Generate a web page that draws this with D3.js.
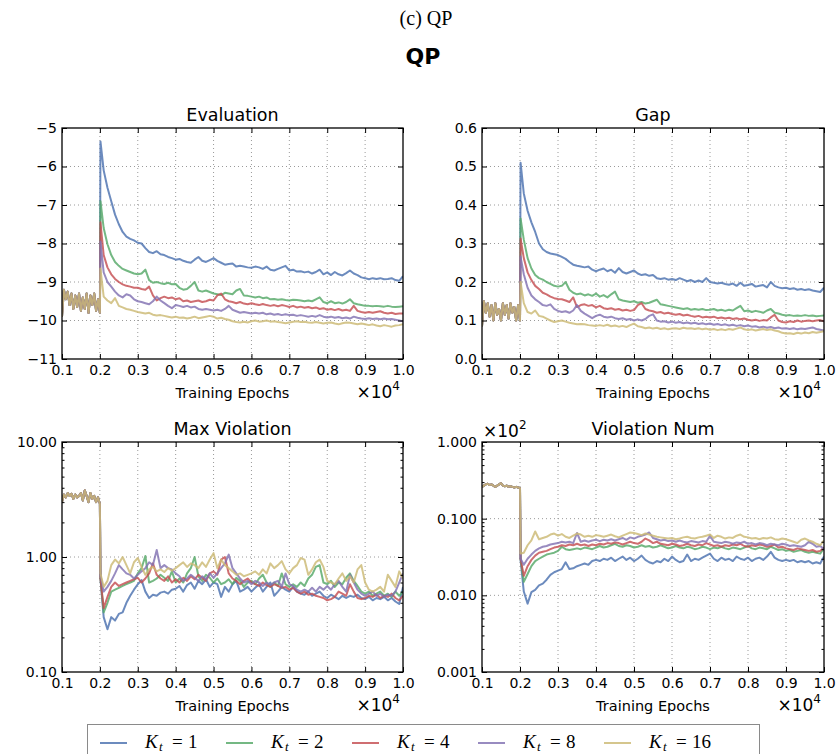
<!DOCTYPE html>
<html>
<head>
<meta charset="utf-8">
<script src="https://cdn.jsdelivr.net/npm/d3@7"></script>
<style>
  body { margin: 0; background: #fff; }
  svg { display: block; }
</style>
</head>
<body>
<svg id="fig" width="837" height="754"></svg>
<script>
// ---- series meta ----
const runLabels = ["1", "2", "4", "8", "16"];
const runColors = ["#4C72B0", "#55A868", "#C44E52", "#8172B2", "#CCB974"];

// ---- epochs ----
const warmupEpochs = d3.range(1000, 2001, 50);          // shared warm-up phase
const spikeEpoch = 2015;
const trainEpochs = [spikeEpoch, ...d3.range(2100, 10001, 100)];
const epochTicks = d3.range(1000, 10001, 1000);

// ---- Evaluation ----
const evalTicks = [-11, -10, -9, -8, -7, -6, -5];
const evalWarmup = [-9.9, -9.2, -9.45, -9.25, -9.6, -9.3, -9.7, -9.35, -9.65, -9.3, -9.75, -9.4, -9.7, -9.3, -9.8, -9.35, -9.6, -9.3, -9.75, -9.45, -9.8];
const evalK1 = [-5.35, -6.1, -6.55, -6.9, -7.25, -7.5, -7.7, -7.82, -7.88, -7.92, -7.98,
  -8.0, -8.12, -8.22, -8.25, -8.2, -8.28, -8.3, -8.35, -8.38, -8.42,
  -8.4, -8.45, -8.48, -8.5, -8.42, -8.35, -8.45, -8.48, -8.43, -8.38,
  -8.45, -8.5, -8.55, -8.53, -8.52, -8.6, -8.58, -8.6, -8.62, -8.63,
  -8.6, -8.62, -8.66, -8.6, -8.68, -8.7, -8.66, -8.62, -8.58, -8.7,
  -8.68, -8.73, -8.72, -8.75, -8.73, -8.78, -8.74, -8.68, -8.8, -8.75,
  -8.82, -8.74, -8.8, -8.83, -8.77, -8.7, -8.78, -8.82, -8.88, -8.9,
  -8.93, -8.9, -8.92, -8.9, -8.93, -8.92, -8.9, -8.95, -8.97, -8.85];
const evalK2 = [-6.9, -7.6, -8.02, -8.3, -8.48, -8.58, -8.66, -8.7, -8.74, -8.78, -8.8,
  -8.78, -8.68, -8.95, -9.02, -9.0, -9.03, -9.05, -9.02, -9.06, -9.05,
  -9.15, -9.2, -9.18, -9.1, -9.0, -9.22, -9.25, -9.22, -9.26, -9.3,
  -9.32, -9.34, -9.28, -9.3, -9.32, -9.22, -9.18, -9.35, -9.36, -9.38,
  -9.4, -9.38, -9.42, -9.4, -9.45, -9.44, -9.46, -9.45, -9.47, -9.48,
  -9.46, -9.47, -9.48, -9.5, -9.48, -9.5, -9.45, -9.4, -9.52, -9.55,
  -9.5, -9.55, -9.53, -9.56, -9.52, -9.45, -9.55, -9.58, -9.6, -9.62,
  -9.62, -9.63, -9.62, -9.63, -9.64, -9.62, -9.64, -9.65, -9.64, -9.63];
const evalK4 = [-7.45, -8.3, -8.62, -8.8, -8.92, -9.0, -9.06, -9.1, -9.12, -9.15, -9.15,
  -9.18, -9.2, -9.12, -9.35, -9.48, -9.42, -9.38, -9.42, -9.4, -9.45,
  -9.42, -9.5, -9.48, -9.52, -9.5, -9.48, -9.52, -9.5, -9.46, -9.48,
  -9.35, -9.3, -9.45, -9.5, -9.52, -9.55, -9.52, -9.56, -9.58, -9.55,
  -9.58, -9.6, -9.57, -9.6, -9.62, -9.6, -9.63, -9.6, -9.62, -9.65,
  -9.62, -9.66, -9.64, -9.67, -9.65, -9.68, -9.66, -9.7, -9.68, -9.72,
  -9.7, -9.73, -9.7, -9.74, -9.72, -9.75, -9.62, -9.75, -9.78, -9.8,
  -9.78, -9.8, -9.78, -9.76, -9.8, -9.82, -9.8, -9.83, -9.82, -9.82];
const evalK8 = [-7.95, -8.75, -9.0, -9.12, -9.25, -9.35, -9.4, -9.32, -9.35, -9.45, -9.5,
  -9.52, -9.55, -9.58, -9.5, -9.38, -9.48, -9.55, -9.62, -9.68, -9.6,
  -9.62, -9.65, -9.62, -9.66, -9.64, -9.7, -9.72, -9.7, -9.72, -9.74,
  -9.72, -9.75, -9.7, -9.62, -9.72, -9.76, -9.8, -9.78, -9.8, -9.82,
  -9.8, -9.82, -9.8, -9.84, -9.82, -9.85, -9.83, -9.86, -9.84, -9.86,
  -9.85, -9.88, -9.86, -9.88, -9.9, -9.88, -9.9, -9.86, -9.9, -9.92,
  -9.9, -9.93, -9.91, -9.94, -9.92, -9.95, -9.9, -9.93, -9.95, -9.96,
  -9.94, -9.96, -9.95, -9.97, -9.95, -9.97, -9.96, -9.98, -10.0, -10.02];
const evalK16 = [-8.65, -9.38, -9.48, -9.55, -9.42, -9.62, -9.66, -9.7, -9.72, -9.75, -9.78,
  -9.8, -9.82, -9.8, -9.85, -9.87, -9.86, -9.88, -9.9, -9.92, -9.9,
  -9.93, -9.92, -9.95, -9.93, -9.9, -9.94, -9.92, -9.9, -9.88, -9.9,
  -9.95, -9.93, -9.96, -9.98, -10.02, -10.04, -10.05, -10.03, -10.05, -10.02,
  -10.0, -10.03, -10.02, -10.0, -10.03, -10.02, -10.04, -10.05, -10.07, -10.05,
  -10.03, -10.02, -10.04, -10.03, -10.05, -10.06, -10.04, -10.06, -10.08, -10.06,
  -10.05, -10.08, -10.1, -10.07, -10.05, -10.06, -10.08, -10.1, -10.08, -10.1,
  -10.12, -10.1, -10.13, -10.15, -10.12, -10.14, -10.16, -10.13, -10.12, -10.1];

// ---- Gap ----
const gapTicks = [0, 0.1, 0.2, 0.3, 0.4, 0.5, 0.6];
const gapWarmup = [0.085, 0.15, 0.12, 0.145, 0.11, 0.14, 0.1, 0.145, 0.115, 0.13, 0.1, 0.145, 0.115, 0.14, 0.105, 0.145, 0.12, 0.135, 0.1, 0.14, 0.1];
const gapK1 = [0.51, 0.43, 0.385, 0.355, 0.33, 0.3, 0.285, 0.278, 0.274, 0.272, 0.27,
  0.265, 0.26, 0.252, 0.245, 0.242, 0.24, 0.238, 0.24, 0.232, 0.228,
  0.232, 0.235, 0.228, 0.232, 0.224, 0.236, 0.226, 0.222, 0.226, 0.23,
  0.222, 0.218, 0.22, 0.216, 0.218, 0.21, 0.208, 0.21, 0.206, 0.208,
  0.205, 0.21, 0.206, 0.202, 0.205, 0.2, 0.204, 0.2, 0.21, 0.2,
  0.198, 0.196, 0.198, 0.195, 0.193, 0.196, 0.19, 0.198, 0.19, 0.192,
  0.195, 0.188, 0.19, 0.192, 0.186, 0.2, 0.19, 0.186, 0.184, 0.185,
  0.182, 0.184, 0.18, 0.182, 0.179, 0.181, 0.178, 0.176, 0.174, 0.185];
const gapK2 = [0.365, 0.31, 0.262, 0.235, 0.218, 0.21, 0.206, 0.2, 0.195, 0.19, 0.188,
  0.19, 0.2, 0.18, 0.172, 0.168, 0.17, 0.165, 0.168, 0.164, 0.17,
  0.162, 0.166, 0.16, 0.168, 0.175, 0.155, 0.152, 0.15, 0.148, 0.15,
  0.146, 0.148, 0.144, 0.146, 0.15, 0.154, 0.142, 0.14, 0.138, 0.136,
  0.134, 0.132, 0.13, 0.132, 0.128, 0.13, 0.128, 0.13, 0.127, 0.128,
  0.13, 0.126, 0.128, 0.125, 0.128, 0.126, 0.132, 0.138, 0.124, 0.126,
  0.122, 0.125, 0.123, 0.12, 0.126, 0.13, 0.12, 0.118, 0.115, 0.113,
  0.114, 0.112, 0.113, 0.112, 0.114, 0.112, 0.113, 0.111, 0.112, 0.113];
const gapK4 = [0.313, 0.262, 0.225, 0.205, 0.19, 0.182, 0.172, 0.168, 0.162, 0.158, 0.156,
  0.155, 0.152, 0.148, 0.16, 0.135, 0.14, 0.142, 0.138, 0.14, 0.134,
  0.138, 0.132, 0.13, 0.132, 0.128, 0.13, 0.126, 0.128, 0.125, 0.127,
  0.14, 0.145, 0.13, 0.126, 0.124, 0.12, 0.122, 0.118, 0.12, 0.117,
  0.115, 0.117, 0.113, 0.115, 0.112, 0.11, 0.112, 0.108, 0.11, 0.108,
  0.11, 0.106, 0.108, 0.105, 0.107, 0.104, 0.106, 0.103, 0.105, 0.102,
  0.1, 0.102, 0.099, 0.101, 0.1, 0.108, 0.115, 0.1, 0.096, 0.095,
  0.098, 0.096, 0.1, 0.097, 0.099, 0.1, 0.098, 0.1, 0.101, 0.098];
const gapK8 = [0.266, 0.22, 0.185, 0.165, 0.155, 0.148, 0.14, 0.138, 0.142, 0.13, 0.125,
  0.122, 0.124, 0.12, 0.126, 0.14, 0.125, 0.118, 0.112, 0.106, 0.112,
  0.115, 0.11, 0.108, 0.11, 0.106, 0.104, 0.106, 0.102, 0.104, 0.1,
  0.103, 0.1, 0.104, 0.112, 0.116, 0.1, 0.097, 0.098, 0.095, 0.097,
  0.094, 0.096, 0.093, 0.095, 0.092, 0.094, 0.091, 0.093, 0.09, 0.092,
  0.089, 0.091, 0.088, 0.09, 0.087, 0.089, 0.086, 0.088, 0.085, 0.087,
  0.084, 0.085, 0.082, 0.084, 0.081, 0.083, 0.08, 0.082, 0.079, 0.08,
  0.078, 0.08, 0.077, 0.079, 0.078, 0.08, 0.082, 0.078, 0.076, 0.074];
const gapK16 = [0.2, 0.145, 0.122, 0.118, 0.126, 0.112, 0.11, 0.105, 0.1, 0.096, 0.098,
  0.1, 0.097, 0.094, 0.092, 0.09, 0.091, 0.09, 0.088, 0.087, 0.086,
  0.088, 0.086, 0.089, 0.085, 0.087, 0.084, 0.086, 0.083, 0.088, 0.092,
  0.085, 0.083, 0.08, 0.082, 0.079, 0.081, 0.078, 0.08, 0.077, 0.079,
  0.08, 0.078, 0.081, 0.079, 0.08, 0.078, 0.08, 0.077, 0.079, 0.076,
  0.078, 0.075, 0.077, 0.075, 0.078, 0.076, 0.079, 0.082, 0.077, 0.075,
  0.077, 0.074, 0.076, 0.078, 0.075, 0.077, 0.074, 0.072, 0.068, 0.066,
  0.067, 0.065, 0.068, 0.066, 0.069, 0.067, 0.07, 0.068, 0.07, 0.072];

// ---- Max Violation (log) ----
const maxViolTicks = [0.1, 1, 10];
const maxViolWarmup = [3.0, 3.5, 3.3, 3.6, 3.4, 3.55, 3.2, 3.5, 3.3, 3.4, 3.6, 3.1, 3.8, 3.4, 3.0, 3.6, 3.2, 3.4, 3.0, 3.3, 2.9];
const maxViolK1 = [0.65, 0.3, 0.235, 0.3, 0.28, 0.32, 0.33, 0.4, 0.46, 0.52, 0.58,
  0.63, 0.5, 0.44, 0.47, 0.46, 0.49, 0.5, 0.48, 0.52, 0.53,
  0.56, 0.5, 0.57, 0.6, 0.53, 0.62, 0.58, 0.64, 0.55, 0.6,
  0.58, 0.45, 0.55, 0.5, 0.58, 0.62, 0.5, 0.52, 0.55, 0.5,
  0.54, 0.58, 0.5, 0.55, 0.6, 0.46, 0.5, 0.55, 0.52, 0.5,
  0.55, 0.5, 0.48, 0.47, 0.5, 0.46, 0.48, 0.5, 0.46, 0.44,
  0.47, 0.45, 0.43, 0.46, 0.44, 0.46, 0.45, 0.47, 0.44, 0.43,
  0.45, 0.42, 0.44, 0.43, 0.45, 0.42, 0.44, 0.41, 0.39, 0.55];
const maxViolK2 = [0.65, 0.33, 0.4, 0.5, 0.52, 0.54, 0.56, 0.58, 0.6, 0.62, 0.72,
  0.8, 1.02, 0.6, 0.62, 0.65, 0.7, 0.66, 0.62, 0.75, 0.6,
  0.65, 0.6, 0.72, 0.8, 1.0, 0.68, 0.62, 0.7, 0.66, 0.6,
  0.65, 0.58, 0.6, 0.64, 0.58, 0.66, 0.62, 0.55, 0.6, 0.62,
  0.58, 0.65, 0.7, 0.6, 0.55, 0.6, 0.56, 0.72, 0.58, 0.55,
  0.58, 0.55, 0.6, 0.56, 0.65, 0.7, 0.82, 0.85, 0.6, 0.58,
  0.62, 0.55, 0.6, 0.58, 0.66, 0.72, 0.62, 0.56, 0.5, 0.48,
  0.5, 0.46, 0.48, 0.5, 0.46, 0.48, 0.45, 0.5, 0.46, 0.5];
const maxViolK4 = [0.65, 0.36, 0.45, 0.55, 0.6, 0.56, 0.58, 0.6, 0.62, 0.64, 0.66,
  0.6, 0.65, 0.72, 0.88, 0.7, 0.65, 0.62, 0.68, 0.6, 0.64,
  0.6, 0.66, 0.62, 0.68, 0.64, 0.7, 0.66, 0.62, 0.72, 0.75,
  0.7, 0.95, 1.0, 0.72, 0.65, 0.62, 0.58, 0.62, 0.65, 0.6,
  0.58, 0.56, 0.6, 0.57, 0.55, 0.58, 0.56, 0.54, 0.55, 0.52,
  0.54, 0.5, 0.48, 0.5, 0.47, 0.48, 0.46, 0.45, 0.44, 0.42,
  0.43, 0.45, 0.5, 0.48, 0.46, 0.58, 0.5, 0.44, 0.43, 0.44,
  0.46, 0.45, 0.47, 0.44, 0.46, 0.45, 0.48, 0.44, 0.42, 0.46];
const maxViolK8 = [0.7, 0.5, 0.55, 0.62, 0.72, 0.85, 0.78, 0.72, 0.7, 0.65, 0.7,
  0.75, 0.8, 0.9, 0.85, 1.15, 0.8, 0.85, 0.8, 0.78, 0.72,
  0.68, 0.62, 0.65, 0.7, 0.66, 0.62, 0.68, 0.64, 0.72, 0.66,
  0.72, 0.8, 0.88, 1.05, 0.8, 0.72, 0.65, 0.6, 0.62, 0.58,
  0.62, 0.6, 0.56, 0.6, 0.57, 0.6, 0.62, 0.55, 0.72, 0.58,
  0.56, 0.52, 0.5, 0.52, 0.5, 0.54, 0.5, 0.55, 0.52, 0.56,
  0.52, 0.58, 0.62, 0.55, 0.5, 0.7, 0.6, 0.52, 0.48, 0.46,
  0.48, 0.5, 0.46, 0.48, 0.45, 0.47, 0.46, 0.5, 0.6, 0.72];
const maxViolK16 = [0.72, 0.55, 0.62, 0.85, 0.95, 0.88, 1.0, 0.85, 0.72, 0.9, 0.98,
  0.82, 0.7, 0.78, 0.82, 0.75, 0.78, 0.74, 0.8, 0.76, 0.8,
  0.85, 0.9, 0.82, 0.88, 0.85, 0.8, 0.9, 0.82, 0.95, 1.08,
  0.8, 0.95, 0.85, 0.8, 0.75, 0.7, 0.72, 0.68, 0.7, 0.72,
  0.75, 0.7, 0.78, 0.72, 0.88, 0.8, 0.85, 0.92, 0.78, 0.72,
  0.8, 0.85, 0.98, 0.95, 0.7, 0.78, 0.9, 0.95, 0.82, 0.62,
  0.6, 0.58, 0.65, 0.72, 0.62, 0.68, 0.6, 0.78, 0.85, 0.6,
  0.52, 0.5, 0.52, 0.55, 0.5, 0.7, 0.62, 0.55, 0.75, 0.65];

// ---- Violation Num (log, in units of 10^2) ----
const violNumTicks = [0.001, 0.01, 0.1, 1];
const violNumWarmup = [0.26, 0.27, 0.28, 0.285, 0.275, 0.28, 0.27, 0.26, 0.27, 0.28, 0.29, 0.27, 0.265, 0.27, 0.26, 0.265, 0.26, 0.255, 0.26, 0.255, 0.25];
const violNumK1 = [0.029, 0.0112, 0.0078, 0.011, 0.0118, 0.0135, 0.0142, 0.016, 0.0185, 0.02, 0.021,
  0.022, 0.027, 0.022, 0.0225, 0.024, 0.025, 0.026, 0.025, 0.028, 0.029,
  0.028, 0.03, 0.029, 0.031, 0.028, 0.03, 0.032, 0.029, 0.031, 0.028,
  0.03, 0.033, 0.029, 0.027, 0.026, 0.028, 0.027, 0.03, 0.028, 0.032,
  0.029, 0.027, 0.028, 0.034, 0.028, 0.03, 0.029, 0.031, 0.033, 0.035,
  0.03, 0.028, 0.031, 0.029, 0.03, 0.028, 0.032, 0.03, 0.029, 0.031,
  0.028, 0.03, 0.031, 0.029, 0.032, 0.037, 0.031, 0.029, 0.028, 0.029,
  0.028, 0.029, 0.027, 0.028, 0.027, 0.028, 0.026, 0.027, 0.026, 0.032];
const violNumK2 = [0.03, 0.015, 0.019, 0.024, 0.028, 0.03, 0.032, 0.034, 0.035, 0.036, 0.038,
  0.043, 0.04, 0.039, 0.04, 0.041, 0.04, 0.042, 0.041, 0.04, 0.042,
  0.044, 0.042, 0.043, 0.045, 0.047, 0.044, 0.043, 0.045, 0.044, 0.042,
  0.043, 0.045, 0.043, 0.044, 0.042, 0.043, 0.045, 0.043, 0.041, 0.042,
  0.044, 0.042, 0.041, 0.043, 0.042, 0.04, 0.041, 0.043, 0.042, 0.04,
  0.042, 0.041, 0.043, 0.041, 0.04, 0.042, 0.041, 0.04, 0.042, 0.044,
  0.041, 0.04, 0.042, 0.041, 0.04, 0.043, 0.041, 0.039, 0.04, 0.038,
  0.039, 0.037, 0.038, 0.039, 0.037, 0.036, 0.037, 0.036, 0.035, 0.041];
const violNumK4 = [0.03, 0.018, 0.024, 0.029, 0.033, 0.036, 0.037, 0.038, 0.04, 0.042, 0.043,
  0.045, 0.044, 0.046, 0.045, 0.047, 0.045, 0.046, 0.044, 0.046, 0.045,
  0.047, 0.046, 0.048, 0.047, 0.049, 0.048, 0.046, 0.048, 0.05, 0.048,
  0.047, 0.05, 0.055, 0.052, 0.048, 0.05, 0.047, 0.046, 0.045, 0.047,
  0.046, 0.044, 0.045, 0.047, 0.045, 0.044, 0.046, 0.045, 0.048, 0.046,
  0.044, 0.045, 0.043, 0.045, 0.044, 0.046, 0.045, 0.047, 0.044, 0.043,
  0.045, 0.044, 0.046, 0.045, 0.043, 0.044, 0.046, 0.042, 0.043, 0.041,
  0.04, 0.039, 0.041, 0.04, 0.039, 0.038, 0.039, 0.037, 0.038, 0.042];
const violNumK8 = [0.03, 0.025, 0.03, 0.034, 0.038, 0.041, 0.043, 0.044, 0.046, 0.047, 0.048,
  0.05, 0.049, 0.05, 0.048, 0.065, 0.05, 0.052, 0.05, 0.052, 0.053,
  0.051, 0.053, 0.052, 0.054, 0.052, 0.054, 0.056, 0.053, 0.057, 0.055,
  0.058, 0.06, 0.062, 0.066, 0.056, 0.054, 0.052, 0.053, 0.051, 0.052,
  0.05, 0.052, 0.05, 0.049, 0.051, 0.05, 0.049, 0.051, 0.05, 0.06,
  0.05, 0.049, 0.048, 0.05, 0.049, 0.047, 0.049, 0.048, 0.05, 0.047,
  0.048, 0.046, 0.048, 0.047, 0.045, 0.047, 0.046, 0.045, 0.047, 0.046,
  0.044, 0.045, 0.044, 0.043, 0.045, 0.05, 0.047, 0.043, 0.044, 0.04];
const violNumK16 = [0.035, 0.036, 0.045, 0.052, 0.068, 0.054, 0.056, 0.058, 0.062, 0.064, 0.06,
  0.063, 0.058, 0.056, 0.06, 0.064, 0.062, 0.058, 0.06, 0.058, 0.061,
  0.06, 0.058, 0.06, 0.062, 0.059, 0.057, 0.06, 0.063, 0.066, 0.065,
  0.063, 0.061, 0.064, 0.062, 0.06, 0.058, 0.057, 0.056, 0.055, 0.056,
  0.054, 0.055, 0.057, 0.058, 0.056, 0.055, 0.057, 0.058, 0.06, 0.062,
  0.056, 0.06, 0.058, 0.055, 0.057, 0.056, 0.06, 0.062, 0.058, 0.057,
  0.055, 0.056, 0.054, 0.056, 0.055, 0.057, 0.054, 0.053, 0.055, 0.054,
  0.052, 0.05, 0.048, 0.053, 0.055, 0.052, 0.05, 0.047, 0.045, 0.052];

// ---- figure ----
const svg = d3.select("#fig");
const SANS = "DejaVu Sans, Verdana, sans-serif";
const SERIF = "Liberation Serif, Times New Roman, serif";

svg.append("text").attr("x", 426).attr("y", 25).attr("text-anchor", "middle")
  .attr("font-family", SERIF).attr("font-size", 20).text("(c) QP");
svg.append("text").attr("x", 423).attr("y", 64).attr("text-anchor", "middle")
  .attr("font-family", SANS).attr("font-weight", "bold").attr("font-size", 22).text("QP");

const panels = [
  { key: "ev", title: "Evaluation", warm: evalWarmup, runs: [evalK1, evalK2, evalK4, evalK8, evalK16],
    log: false, domain: [-11, -5], ticks: evalTicks, fmt: d3.format("d"),
    box: { left: 62, top: 128, width: 341, height: 231 } },
  { key: "gap", title: "Gap", warm: gapWarmup, runs: [gapK1, gapK2, gapK4, gapK8, gapK16],
    log: false, domain: [0, 0.6], ticks: gapTicks, fmt: d3.format(".1f"),
    box: { left: 482, top: 128, width: 342, height: 231 } },
  { key: "mv", title: "Max Violation", warm: maxViolWarmup, runs: [maxViolK1, maxViolK2, maxViolK4, maxViolK8, maxViolK16],
    log: true, domain: [0.1, 10], ticks: maxViolTicks, fmt: d3.format(".2f"),
    box: { left: 62, top: 442, width: 341, height: 230 } },
  { key: "vn", title: "Violation Num", warm: violNumWarmup, runs: [violNumK1, violNumK2, violNumK4, violNumK8, violNumK16],
    log: true, domain: [0.001, 1], ticks: violNumTicks, fmt: d3.format(".3f"), offset: "2",
    box: { left: 482, top: 442, width: 342, height: 230 } }
];

const MAJOR = 5, MINOR = 2.5;

panels.forEach(p => {
  const { left, top, width, height } = p.box;
  const g = svg.append("g").attr("transform", `translate(${left},${top})`);
  const x = d3.scaleLinear().domain([1000, 10000]).range([0, width]);
  const y = (p.log ? d3.scaleLog() : d3.scaleLinear()).domain(p.domain).range([height, 0]);

  // clip
  svg.append("defs").append("clipPath").attr("id", "clip-" + p.key)
    .append("rect").attr("width", width).attr("height", height);

  // grid
  const grid = g.append("g").attr("stroke", "#9a9a9a").attr("stroke-width", 1)
    .attr("stroke-dasharray", "1,3").attr("fill", "none");
  epochTicks.filter(t => t > 1000 && t < 10000).forEach(t => {
    grid.append("line").attr("x1", x(t)).attr("x2", x(t)).attr("y1", 0).attr("y2", height);
  });
  p.ticks.filter(t => t > p.domain[0] && t < p.domain[1]).forEach(t => {
    grid.append("line").attr("x1", 0).attr("x2", width).attr("y1", y(t)).attr("y2", y(t));
  });

  // lines
  const line = d3.line().x(d => x(d.e)).y(d => y(d.v));
  const lg = g.append("g").attr("clip-path", `url(#clip-${p.key})`);
  p.runs.forEach((run, i) => {
    const pts = p.warm.map((v, j) => ({ e: warmupEpochs[j], v }))
      .concat(run.map((v, j) => ({ e: trainEpochs[j], v })));
    lg.append("path").datum(pts).attr("d", line)
      .attr("fill", "none").attr("stroke", runColors[i])
      .attr("stroke-width", 2).attr("stroke-opacity", 0.82)
      .attr("stroke-linejoin", "round");
  });

  // axes with inward ticks
  const axB = g.append("g").attr("transform", `translate(0,${height})`)
    .call(d3.axisBottom(x).tickValues(epochTicks).tickSize(-MAJOR).tickPadding(6)
      .tickFormat(d => d3.format(".1f")(d / 10000)));
  const axT = g.append("g")
    .call(d3.axisTop(x).tickValues(epochTicks).tickSize(-MAJOR).tickFormat(""));
  const axL = g.append("g")
    .call(d3.axisLeft(y).tickValues(p.ticks).tickSize(-MAJOR).tickPadding(5).tickFormat(p.fmt));
  const axR = g.append("g").attr("transform", `translate(${width},0)`)
    .call(d3.axisRight(y).tickValues(p.ticks).tickSize(-MAJOR).tickFormat(""));
  if (p.log) {
    const minor = y.ticks().filter(t => !p.ticks.some(m => Math.abs(m - t) / m < 1e-6));
    g.append("g").call(d3.axisLeft(y).tickValues(minor).tickSize(-MINOR).tickFormat(""));
    g.append("g").attr("transform", `translate(${width},0)`)
      .call(d3.axisRight(y).tickValues(minor).tickSize(-MINOR).tickFormat(""));
  }
  g.selectAll(".domain").remove();
  g.selectAll(".tick line").attr("stroke", "#000").attr("stroke-width", 1);
  g.selectAll(".tick text").attr("font-family", SANS).attr("font-size", 14).attr("fill", "#000");

  // frame
  g.append("rect").attr("width", width).attr("height", height)
    .attr("fill", "none").attr("stroke", "#000").attr("stroke-width", 1.3);

  // title and labels
  g.append("text").attr("x", width / 2).attr("y", -7).attr("text-anchor", "middle")
    .attr("font-family", SANS).attr("font-size", 17.5).text(p.title);
  g.append("text").attr("x", width / 2).attr("y", height + 38.5).attr("text-anchor", "middle")
    .attr("font-family", SANS).attr("font-size", 14.5).text("Training Epochs");
  const off = g.append("text").attr("x", width - 3).attr("y", height + 39)
    .attr("text-anchor", "end").attr("font-family", SANS).attr("font-size", 17);
  off.append("tspan").text("×10");
  off.append("tspan").attr("dy", -8).attr("font-size", 12).text("4");
  if (p.offset) {
    const o2 = g.append("text").attr("x", 1).attr("y", -5)
      .attr("font-family", SANS).attr("font-size", 17);
    o2.append("tspan").text("×10");
    o2.append("tspan").attr("dy", -8).attr("font-size", 12).text(p.offset);
  }
});

// ---- legend ----
const leg = svg.append("g");
leg.append("rect").attr("x", 87.5).attr("y", 724.5).attr("width", 672).attr("height", 40)
  .attr("fill", "#fff").attr("stroke", "#8a8a8a").attr("stroke-width", 1);
runLabels.forEach((lab, i) => {
  const x0 = 100 + 126 * i;
  leg.append("line").attr("x1", x0).attr("x2", x0 + 27).attr("y1", 743).attr("y2", 743)
    .attr("stroke", runColors[i]).attr("stroke-width", 2).attr("stroke-opacity", 0.82);
  const tx = x0 + 45;
  leg.append("text").attr("x", tx).attr("y", 748).attr("font-family", SERIF)
    .attr("font-style", "italic").attr("font-size", 19).text("K");
  leg.append("text").attr("x", tx + 14).attr("y", 751).attr("font-family", SERIF)
    .attr("font-style", "italic").attr("font-size", 13).text("t");
  leg.append("text").attr("x", tx + 27).attr("y", 748).attr("font-family", SERIF)
    .attr("font-size", 19).text("=");
  leg.append("text").attr("x", tx + 43).attr("y", 748).attr("font-family", SERIF)
    .attr("font-size", 19).text(lab);
});
</script>
</body>
</html>
